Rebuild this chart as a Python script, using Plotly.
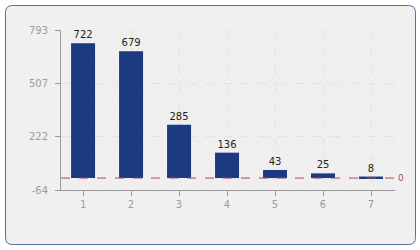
import plotly.graph_objects as go

categories = [1, 2, 3, 4, 5, 6, 7]
values = [722, 679, 285, 136, 43, 25, 8]
y_ticks = [-64, 222, 507, 793]

W, H = 420, 250
L, R, T, B = 61, 25, 30, 60
pw, ph = W - L - R, H - T - B
xr = [0.54, 7.5]
yr = [-64, 793]

def px(x):
    return (x - L) / pw

def py(y):
    return (H - B - y) / ph

fig = go.Figure()

# hatched background (drawn first, beneath the bars)
fig.add_trace(go.Bar(
    x=[(xr[0] + xr[1]) / 2], y=[yr[1] - yr[0]], base=[yr[0]], width=[xr[1] - xr[0]],
    marker=dict(color="rgba(0,0,0,0)", line=dict(width=0),
                pattern=dict(shape="/", fgcolor="#e6e6e6", bgcolor="rgba(0,0,0,0)",
                             size=4, solidity=0.25, fillmode="overlay")),
    hoverinfo="skip", showlegend=False))

fig.add_trace(go.Bar(
    x=categories, y=values, width=0.5, marker=dict(color="#1b3a82", line=dict(width=0)),
    text=[str(v) for v in values], textposition="outside", cliponaxis=False,
    textfont=dict(family="DejaVu Sans", size=10, color="#222"), showlegend=False))

# outer frame with rounded corners
x0, x1, y0, y1, r = 5.5, 415.5, 5.5, 244.5, 7
path = (f"M {px(x0+r)},{py(y0)} L {px(x1-r)},{py(y0)} Q {px(x1)},{py(y0)} {px(x1)},{py(y0+r)} "
        f"L {px(x1)},{py(y1-r)} Q {px(x1)},{py(y1)} {px(x1-r)},{py(y1)} "
        f"L {px(x0+r)},{py(y1)} Q {px(x0)},{py(y1)} {px(x0)},{py(y1-r)} "
        f"L {px(x0)},{py(y0+r)} Q {px(x0)},{py(y0)} {px(x0+r)},{py(y0)} Z")
fig.add_shape(type="path", path=path, xref="paper", yref="paper",
              fillcolor="#f0f0f0", line=dict(color="#5a6b9c", width=1), layer="below")

# zero line
fig.add_shape(type="line", xref="paper", yref="y", x0=0, x1=1, y0=0, y1=0,
              line=dict(color="#b0485c", width=1, dash="dash"))
fig.add_annotation(xref="paper", yref="y", x=1, y=0, text="0", showarrow=False,
                   xanchor="left", xshift=1, font=dict(family="DejaVu Sans", size=9, color="#b0485c"))

tickfont = dict(family="DejaVu Sans", size=10, color="#9c9c9c")
fig.update_layout(
    width=W, height=H, margin=dict(l=L, r=R, t=T, b=B),
    paper_bgcolor="white", plot_bgcolor="white",
    barmode="overlay",
    xaxis=dict(range=xr, tickvals=categories, ticktext=[str(c) for c in categories],
               showgrid=True, gridcolor="#e2e2e2", griddash="dash", gridwidth=1,
               showline=True, linecolor="#9a9a9a", ticks="outside", ticklen=5, tickcolor="#9a9a9a",
               tickfont=tickfont, zeroline=False, fixedrange=True),
    yaxis=dict(range=yr, tickvals=y_ticks, ticktext=[str(t) for t in y_ticks],
               showgrid=True, gridcolor="#e2e2e2", griddash="dash", gridwidth=1,
               showline=True, linecolor="#9a9a9a", ticks="outside", ticklen=5, tickcolor="#9a9a9a",
               ticklabelstandoff=5,
               tickfont=tickfont, zeroline=False, fixedrange=True),
)

fig.write_html("out.html")
